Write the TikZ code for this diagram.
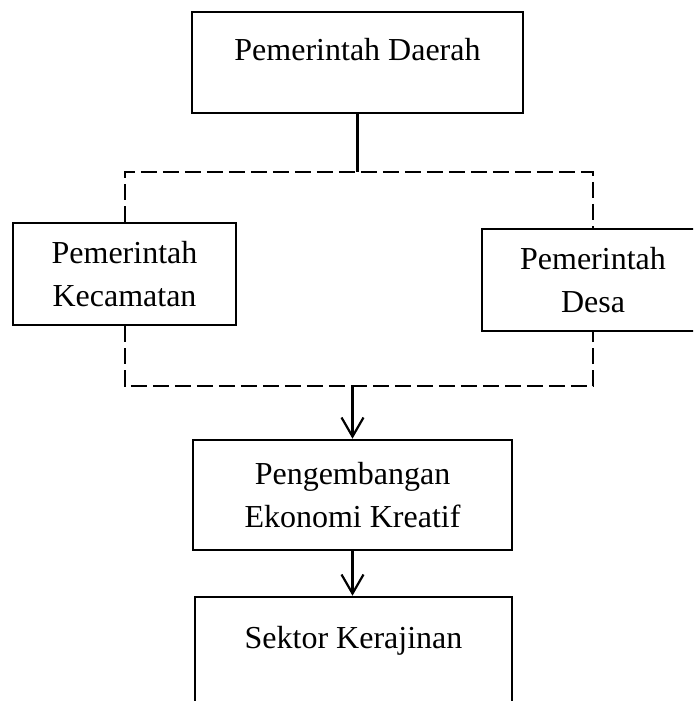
\documentclass[tikz,border=0pt]{standalone}
\usepackage{fontspec}
\setmainfont{Liberation Serif}
\usepackage{tikz}
\usetikzlibrary{arrows.meta}

\begin{document}
\begin{tikzpicture}[x=1pt,y=-1pt,>={Straight Barb[length=19pt,width=22pt]},
                    font=\fontsize{32}{43}\selectfont]
\tikzstyle{box}=[draw=black,line width=2.6pt,rectangle,align=center,inner sep=0pt]
\tikzstyle{dashline}=[line width=2pt,dash pattern=on 16pt off 6pt]
\tikzstyle{line}=[line width=2.2pt]

\clip (0,0) rectangle (693,701);

\node[box,anchor=base,minimum width=331pt,text height=48pt,text depth=53pt]
      (daerah)    at (357.5,60)   {Pemerintah Daerah};
\node[box,minimum width=223pt,minimum height=102pt]
      (kec)       at (124.5,274)  {Pemerintah\\Kecamatan};
\node[box,minimum width=222pt,minimum height=102pt]
      (desa)      at (593,280)    {Pemerintah\\Desa};
\node[box,minimum width=319pt,minimum height=110pt]
      (ekraf)     at (352.5,495)  {Pengembangan\\Ekonomi Kreatif};
\node[box,anchor=base,minimum width=317pt,text height=51pt,text depth=60pt]
      (kerajinan) at (353.5,648)  {Sektor Kerajinan};

\coordinate (jointop) at (357.5,172);
\coordinate (joinbot) at (352.5,386);

\draw[line]     (daerah.south) -- (jointop);
\draw[dashline] (kec.north) |- (jointop) -| (desa.north);
\draw[dashline] (kec.south) |- (joinbot) -| (desa.south);
\draw[line,->]  (joinbot) -- (ekraf.north);
\draw[line,->]  (ekraf.south) -- (ekraf.south |- kerajinan.north);

\end{tikzpicture}
\end{document}
